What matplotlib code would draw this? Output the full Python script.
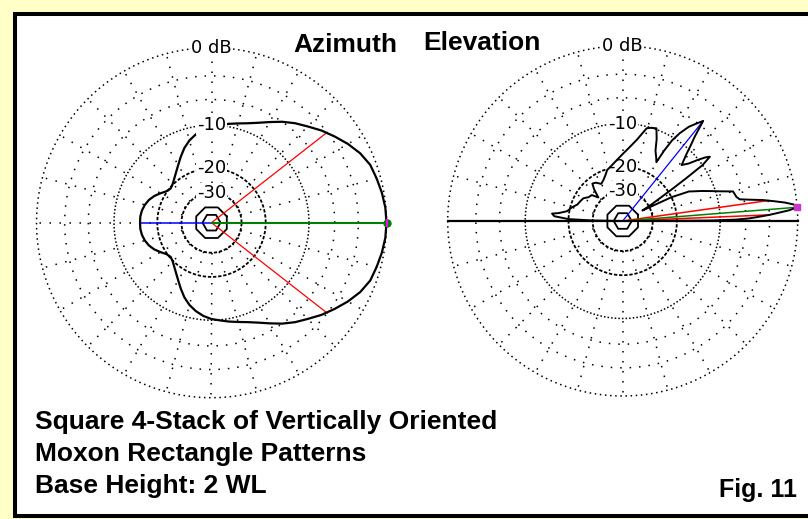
import numpy as np
import matplotlib.pyplot as plt
from matplotlib.patches import Rectangle

plt.rcParams['font.family'] = ['Liberation Sans', 'DejaVu Sans']
plt.rcParams['lines.scale_dashes'] = False

W, H = 808, 519
DB_MIN = -100

# azimuth pattern, degrees from boresight and gain in dB
az_deg = [0, 5, 10, 15, 20, 25, 30, 35, 40, 45, 50, 55, 60, 65, 70, 75, 80, 85, 90,
          95, 100, 105, 110, 115, 120, 125, 130, 135, 140, 145, 150, 155, 160, 165,
          170, 175, 180, 185, 190, 195, 200, 205, 210, 215, 220, 225, 230, 235, 240,
          245, 250, 255, 260, 265, 270, 275, 280, 285, 290, 295, 300, 305, 310, 315,
          320, 325, 330, 335, 340, 345, 350, 355, 360]
az_db = [0.0, -0.05, -0.2, -0.4, -0.6, -1.1, -1.8, -2.6, -3.4, -4.3, -5.1, -6.0, -7.0,
         -7.9, -8.6, -9.1, -9.5, -9.9, -10.2, -10.7, -11.4, -12.3, -13.5, -15.0, -16.5,
         -17.8, -18.9, -19.8, -20.3, -19.8, -18.6, -17.4, -16.5, -15.9, -15.5, -15.3,
         -15.3, -15.3, -15.5, -15.9, -16.5, -17.4, -18.6, -19.8, -20.3, -19.8, -18.9,
         -17.8, -16.5, -15.0, -13.5, -12.3, -11.4, -10.7, -10.2, -9.9, -9.5, -9.1, -8.6,
         -7.9, -7.0, -6.0, -5.1, -4.3, -3.4, -2.6, -1.8, -1.1, -0.6, -0.4, -0.2, -0.05, 0.0]

# elevation pattern, degrees above the horizon and gain in dB
el_deg = [0, 0.3, 0.7, 1.2, 1.8, 2.4, 3, 3.7, 4.5, 5.5, 6.5, 7.5, 8.5, 9.5, 10.5, 12,
          14, 15, 17, 19, 21, 23, 24, 26, 28, 30, 32, 33, 34, 35, 36.4, 37.5, 39, 41,
          43.5, 45, 46.5, 48, 49.5, 51.2, 53, 55, 57, 58.5, 59.5, 60.2, 62, 65, 67.5,
          70, 73, 75.5, 80, 85, 90, 95, 100, 107, 110, 115, 120, 125, 129, 132, 136,
          140, 145, 150, 155, 160, 165, 170, 173, 174, 176, 178, 179, 180]
el_db = [-100, -12, -7.5, -5.5, -4.2, -3.0, -2.0, -0.8, 0.0, -0.3, -1.2, -2.4, -3.6,
         -5.2, -6.6, -7.0, -7.2, -7.3, -9.3, -11.0, -12.6, -14.3, -15.0, -20, -35, -28,
         -22, -18, -14, -10, -8.2, -8.8, -10.0, -11.8, -13.1, -12.0, -10.8, -9.3, -7.8,
         -5.3, -6.2, -7.2, -8.8, -10.5, -13.0, -16.2, -15.3, -13.9, -11.6, -9.8, -10.0,
         -10.3, -12.8, -14.8, -16.4, -17.8, -19.0, -20.3, -21.5, -23, -24, -22.5, -22,
         -24, -28, -25, -24.5, -23, -22.5, -22, -20.5, -19.3, -17, -15.4, -16, -20, -30,
         -100]

# cursor lines: (angle deg, dB)
az_max = (0, 0.0)
az_back = (180, -15.3)
az_half_power = [(38, -3.0), (-38, -3.0)]
el_max = (4.5, 0.0)
el_second = (51.2, -5.3)
el_half_power = [(2.4, -3.0), (8.0, -3.0)]

ring_labels = [(-10, '-10'), (-20, '-20'), (-30, '-30')]


def arrl(db):
    # ARRL log scale: each 2 dB step shrinks the radius by 0.89
    return 0.89 ** (-np.asarray(db, dtype=float) / 2)


def arrl_inv(r):
    return -2 * np.log(np.clip(r, 1e-12, None)) / np.log(0.89)


fig = plt.figure(figsize=(W / 100, H / 100), dpi=100, facecolor='#FFFFC8')
fig.add_artist(Rectangle((15 / W, 1 - 516 / H), 810 / W, 502 / H,
                         transform=fig.transFigure, facecolor='white',
                         edgecolor='black', linewidth=2.9, zorder=-5))


def polar_panel(cx, cy, R=175):
    ax = fig.add_axes([(cx - R) / W, (H - cy - R) / H, 2 * R / W, 2 * R / H],
                      projection='polar')
    ax.set_rscale('function', functions=(arrl, arrl_inv))
    ax.set_autoscale_on(False)
    ax.set_rlim(DB_MIN, 0)
    ax.axis('off')

    th = np.linspace(0, 2 * np.pi, 721)
    dots = dict(color='black', clip_on=False, dash_capstyle='butt', lw=1.1)
    # spokes every 15 degrees
    for a in range(0, 360, 15):
        ax.plot([np.radians(a)] * 2, [-30, 0], ls=(0, (1.1, 6.1)), **dots)
    ax.plot(th, np.zeros_like(th), ls=(0, (1.1, 2.6)), **dots)
    for db in (-3, -6):
        ax.plot(th, np.full_like(th, db), ls=(0, (1.1, 5.7)), **dots)
    ax.plot(th, np.full_like(th, -10.0), ls=(0, (1.1, 1.5)), **dots)
    for db in (-20, -30):
        ax.plot(th, np.full_like(th, db), color='black', lw=1.3, ls=(0, (2.4, 1.3)),
                clip_on=False)
    octo = np.linspace(0, 2 * np.pi, 9) + np.pi / 8
    ax.plot(octo, np.full_like(octo, -40.0), color='black', lw=1.3, clip_on=False)
    hexa = np.linspace(0, 2 * np.pi, 7)
    ax.plot(hexa, np.full_like(hexa, -50.0), color='black', lw=1.3, clip_on=False)

    lab = dict(ha='center', va='center', fontsize=13, family='DejaVu Sans', zorder=5.5,
               clip_on=False, bbox=dict(facecolor='white', edgecolor='none', pad=0.5))
    ax.text(np.pi / 2, 0, '0 dB', **lab)
    for db, s in ring_labels:
        ax.text(np.pi / 2, db, s, **lab)
    return ax


def ray(ax, ang, db, color, lw):
    t = np.radians(ang)
    ax.plot([t, t], [DB_MIN, db], color=color, lw=lw, zorder=4, clip_on=False)


# azimuth
ax1 = polar_panel(211.5, 222.7)
ax1.plot(np.radians(az_deg), az_db, color='black', lw=1.6, zorder=5, clip_on=False)
ray(ax1, *az_back, '#0000FF', 1.1)
for a, d in az_half_power:
    ray(ax1, a, d, '#FF0000', 0.9)
ray(ax1, *az_max, '#008000', 1.5)
ax1.plot(np.radians(az_max[0]), az_max[1], 'o', color='#008000', ms=5, zorder=7, clip_on=False)
ax1.plot(np.radians(az_max[0]), az_max[1], '|', color='#FF00FF', ms=6, mew=1.5, zorder=8, clip_on=False)

# elevation
ax2 = polar_panel(622.7, 221.0)
ax2.plot([np.pi, np.pi, 0, 0], [0, DB_MIN, DB_MIN, 0], color='black', lw=1.6,
         zorder=4, clip_on=False)
ax2.plot(np.radians(el_deg), el_db, color='black', lw=1.4, zorder=6, clip_on=False)
ray(ax2, *el_second, '#0000FF', 0.9)
for a, d in el_half_power:
    ray(ax2, a, d, '#FF0000', 1.1)
ray(ax2, *el_max, '#008000', 1.1)
ax2.plot(np.radians(el_max[0]), el_max[1], 's', color='#CC33CC', ms=4, zorder=7, clip_on=False)

bold = dict(fontsize=19, fontweight='bold', va='center')
fig.text(293 / W, 1 - 44.5 / H, 'Azimuth', ha='left', **bold)
fig.text(423 / W, 1 - 43.5 / H, 'Elevation', ha='left', **bold)
fig.text(35 / W, 1 - 421.5 / H, 'Square 4-Stack of Vertically Oriented', ha='left', **bold)
fig.text(35 / W, 1 - 454 / H, 'Moxon Rectangle Patterns', ha='left', **bold)
fig.text(35 / W, 1 - 486 / H, 'Base Height: 2 WL', ha='left', **bold)
fig.text(797 / W, 1 - 490.5 / H, 'Fig. 11', ha='right', fontsize=18, fontweight='bold',
         va='center')

fig.savefig('out.png', dpi=100, facecolor=fig.get_facecolor())
